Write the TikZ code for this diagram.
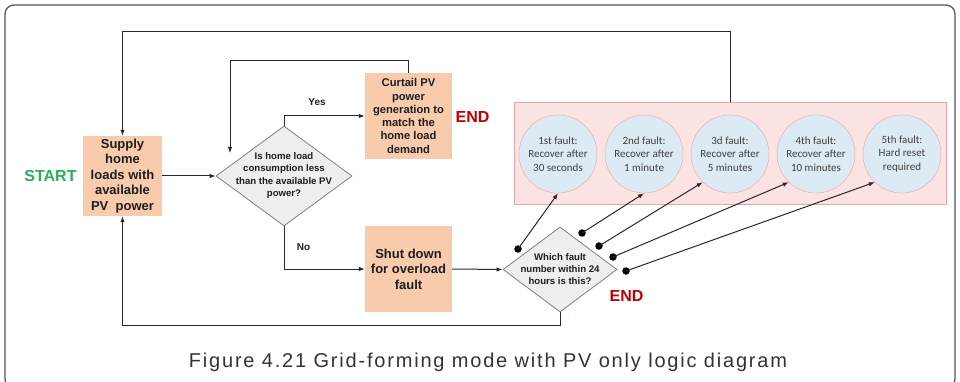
\documentclass[tikz,border=0pt]{standalone}
\usepackage{fontspec}
\setmainfont{Liberation Sans}
\newfontfamily\calib{Carlito}
\usetikzlibrary{shapes.geometric,arrows.meta}
\definecolor{peach}{HTML}{F8CBAD}
\definecolor{dgrey}{HTML}{EEEEEE}
\definecolor{dborder}{HTML}{808080}
\definecolor{linec}{HTML}{2E2626}
\definecolor{pinkfill}{HTML}{FBE3E3}
\definecolor{pinkline}{HTML}{E3A5A5}
\definecolor{cblue}{HTML}{DCEAF4}
\definecolor{cline}{HTML}{EDB7B0}
\definecolor{ctext}{HTML}{404040}
\definecolor{startgreen}{HTML}{2BAF5A}
\definecolor{endred}{HTML}{C00000}
\definecolor{framec}{HTML}{555555}
\definecolor{captc}{HTML}{333333}
\definecolor{btext}{HTML}{1E1E1E}
\begin{document}
\begin{tikzpicture}[x=1pt,y=-1pt,
  box/.style={rectangle, fill=peach, inner sep=0pt, align=center, text=btext},
  dshape/.style={diamond, draw=dborder, line width=0.8pt, fill=dgrey, inner sep=0pt},
  dtext/.style={align=center, inner sep=0pt, text=btext, font=\bfseries\fontsize{9.6pt}{12.3pt}\selectfont},
  circ/.style={circle, minimum size=78pt, inner sep=0pt, fill=cblue, draw=cline, line width=0.6pt, align=center, text=ctext, font=\calib\fontsize{11pt}{13.7pt}\selectfont},
  arr/.style={draw=linec, line width=1pt, -{Latex[length=6pt,width=4.5pt]}},
  dotn/.style={circle, fill=black, inner sep=0pt, minimum size=7.5pt},
  lbl/.style={inner sep=0pt, text=btext, font=\bfseries\fontsize{10pt}{12pt}\selectfont},
  bigl/.style={inner sep=0pt, font=\bfseries\fontsize{16pt}{18pt}\selectfont}
]
\useasboundingbox (0,0) rectangle (960,382);
% frame
\draw[framec, line width=1.3pt, rounded corners=9pt] (5,5) rectangle (955,388);

% pink container and circles
\node[rectangle, fill=pinkfill, draw=pinkline, line width=0.6pt, minimum width=432pt, minimum height=102pt, inner sep=0pt] (pink) at (730,153) {};
\node[circ] (c1) at (558,154) {1st fault:\\Recover after\\30 seconds};
\node[circ] (c2) at (644,154) {2nd fault:\\Recover after\\1 minute};
\node[circ] (c3) at (730,154) {3d fault:\\Recover after\\5 minutes};
\node[circ] (c4) at (816,154) {4th fault:\\Recover after\\10 minutes};
\node[circ] (c5) at (902,154) {5th fault:\\Hard reset\\required};

% main boxes
\node[box, minimum width=79pt, minimum height=80pt, font=\bfseries\fontsize{13pt}{15.4pt}\selectfont] (supply) at (122.5,176) {Supply\\home\\loads with\\available\\PV\ \ power};
\node[box, minimum width=87pt, minimum height=86pt, font=\bfseries\fontsize{11.2pt}{13.3pt}\selectfont] (curtail) at (408.5,116) {Curtail PV\\power\\generation to\\match the\\home load\\demand};
\node[box, minimum width=87pt, minimum height=86pt, font=\bfseries\fontsize{13pt}{15.5pt}\selectfont] (shut) at (408.5,269) {Shut down\\for overload\\fault};

% diamonds
\node[dshape, minimum width=136pt, minimum height=100pt] (d1) at (284,176) {};
\node[dtext] (d1t) at (284,175.5) {Is home load\\consumption less\\than the available PV\\power?};
\node[dshape, minimum width=114pt, minimum height=85pt] (d2) at (560,269.5) {};
\node[dtext] (d2t) at (560,269) {Which fault\\number within 24\\hours is this?};

% labels
\node[bigl, text=startgreen] (start) at (50.5,175.5) {START};
\node[bigl, text=endred] (end1) at (472.5,116.5) {END};
\node[bigl, text=endred] (end2) at (626.5,296) {END};
\node[lbl] (yes) at (317,102) {Yes};
\node[lbl] (no) at (303.5,247) {No};

% connectors
\coordinate (fb) at (230,153);
\draw[arr] (supply.east) -- (d1.west);
\draw[arr] (d1.north) |- (curtail.west);
\draw[arr] (curtail.north) -- ++(0,-12) -| (fb);
\draw[arr] (d1.south) |- (shut.west);
\draw[arr] (shut.east) -- (d2.west);
\draw[arr] (d2.south) -- ++(0,13) -| (supply.south);
\draw[arr] (pink.north) -- ++(0,-70) -| (supply.north);

% fault dots and arrows
\node[dotn] (p1) at (518,249) {};
\node[dotn] (p2) at (582,233) {};
\node[dotn] (p3) at (599,246) {};
\node[dotn] (p4) at (613,257) {};
\node[dotn] (p5) at (626,271) {};
\draw[arr] (p1.center) -- (c1.south);
\draw[arr] (p2.center) -- (c2.south);
\draw[arr] (p3.center) -- (c3.226);
\draw[arr] (p4.center) -- (c4.226);
\draw[arr] (p5.center) -- (c5.226);

% caption
\node[anchor=base, inner sep=0pt, text=captc, font=\addfontfeatures{LetterSpace=9}\fontsize{20pt}{22pt}\selectfont] (cap) at (488,367) {Figure 4.21 Grid-forming mode with PV only logic diagram};
\end{tikzpicture}
\end{document}
